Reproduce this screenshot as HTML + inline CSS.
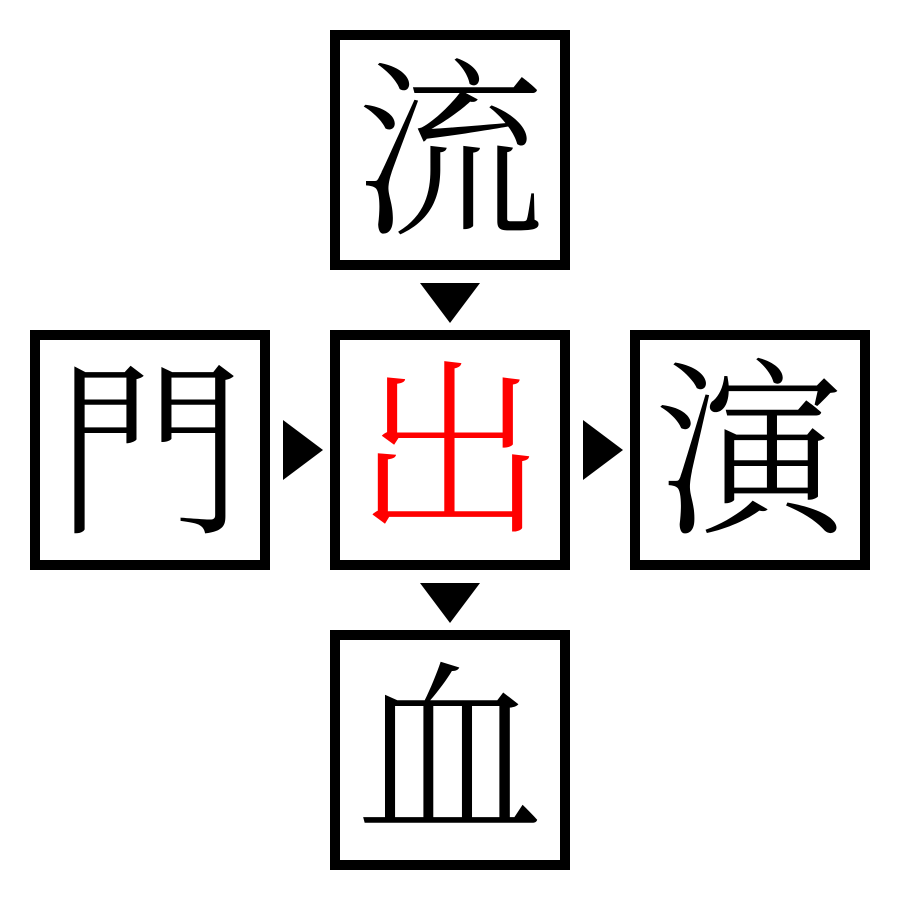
<!DOCTYPE html>
<html><head><meta charset="utf-8"><style>
body{margin:0;width:900px;height:900px;background:#fff;position:relative;overflow:hidden}
.b{position:absolute;width:220px;height:220px;border:10px solid #000;background:#fff;display:flex;align-items:center;justify-content:center;font-family:"Liberation Serif","Noto Serif CJK SC",serif;font-size:190px;font-weight:300;line-height:1}
.b span{position:relative;top:6px}
svg{position:absolute;left:0;top:0}
</style></head><body>
<div class="b" style="left:330px;top:30px"><span>流</span></div>
<div class="b" style="left:30px;top:330px"><span>門</span></div>
<div class="b" style="left:330px;top:330px;color:#f00"><span>出</span></div>
<div class="b" style="left:630px;top:330px"><span>演</span></div>
<div class="b" style="left:330px;top:630px"><span>血</span></div>
<svg width="900" height="900">
<polygon points="420,283 480,283 450,323" fill="#000"/>
<polygon points="420,583 480,583 450,623" fill="#000"/>
<polygon points="283,420 283,480 323,450" fill="#000"/>
<polygon points="583,420 583,480 623,450" fill="#000"/>
</svg>
</body></html>
